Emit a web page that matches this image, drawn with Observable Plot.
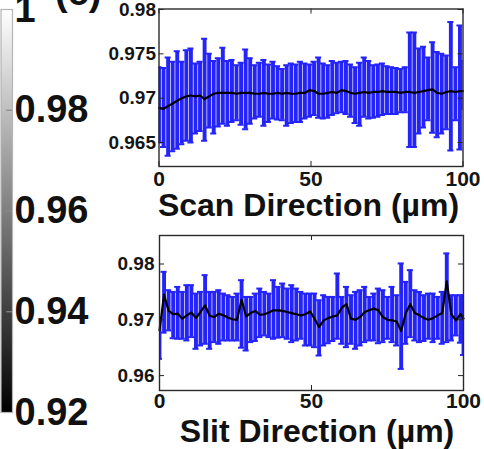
<!DOCTYPE html>
<html><head><meta charset="utf-8">
<script src="https://cdn.jsdelivr.net/npm/d3@7"></script>
<script src="https://cdn.jsdelivr.net/npm/@observablehq/plot@0.6"></script>
<style>
html,body{margin:0;padding:0;background:#fff;}
#root{position:relative;width:484px;height:449px;overflow:hidden;background:#fff;font-family:"Liberation Sans",Arial,sans-serif;}
.panel{position:absolute;}
#tag{position:absolute;left:55px;top:-27px;font-size:38px;font-weight:bold;line-height:1;white-space:nowrap;color:#111;}
</style></head><body><div id="root"></div>
<script>
// ---- data ----
const xPos = [0,1.5,3,4.5,6,7.5,9,10.5,12,13.5,15,16.5,18,19.5,21,22.5,24,25.5,27,28.5,30,31.5,33,34.5,36,37.5,39,40.5,42,43.5,45,46.5,48,49.5,51,52.5,54,55.5,57,58.5,60,61.5,63,64.5,66,67.5,69,70.5,72,73.5,75,76.5,78,79.5,81,82.5,84,85.5,87,88.5,90,91.5,93,94.5,96,97.5,99,100];

const scanHigh = [0.9735,0.9734,0.9746,0.9741,0.9753,0.9741,0.9754,0.9756,0.9739,0.9741,
0.9767,0.9750,0.9742,0.9745,0.9757,0.9742,0.9743,0.9737,0.9740,0.9755,
0.9745,0.9737,0.9740,0.9743,0.9738,0.9741,0.9736,0.9733,0.9737,0.9739,
0.9738,0.9741,0.9739,0.9738,0.9741,0.9746,0.9739,0.9737,0.9742,0.9740,
0.9741,0.9742,0.9738,0.9735,0.9740,0.9746,0.9742,0.9737,0.9738,0.9739,
0.9736,0.9735,0.9734,0.9733,0.9735,0.9774,0.9774,0.9756,0.9758,0.9746,
0.9763,0.9752,0.9750,0.9748,0.9786,0.9735,0.9782,0.9742];
const scanLow = [0.9650,0.9645,0.9635,0.9640,0.9643,0.9648,0.9652,0.9650,0.9660,0.9663,
0.9652,0.9667,0.9660,0.9668,0.9671,0.9669,0.9673,0.9675,0.9670,0.9665,
0.9671,0.9677,0.9679,0.9669,0.9673,0.9677,0.9676,0.9675,0.9669,0.9672,
0.9673,0.9673,0.9677,0.9679,0.9681,0.9678,0.9677,0.9678,0.9681,0.9683,
0.9684,0.9682,0.9679,0.9672,0.9669,0.9679,0.9677,0.9678,0.9679,0.9681,
0.9682,0.9682,0.9682,0.9684,0.9684,0.9645,0.9645,0.9660,0.9667,0.9675,
0.9661,0.9656,0.9660,0.9665,0.9641,0.9675,0.9642,0.9688];
const scanMean = [0.9689,0.9688,0.9691,0.9694,0.9697,0.9700,0.9702,0.9703,0.9702,0.9703,
0.9699,0.9702,0.9705,0.9706,0.9706,0.9706,0.9706,0.9705,0.9706,0.9706,
0.9706,0.9705,0.9705,0.9706,0.9705,0.9705,0.9706,0.9705,0.9706,0.9705,
0.9705,0.9706,0.9706,0.9709,0.9708,0.9705,0.9705,0.9706,0.9707,0.9706,
0.9709,0.9708,0.9706,0.9705,0.9706,0.9707,0.9706,0.9707,0.9707,0.9708,
0.9707,0.9707,0.9707,0.9706,0.9707,0.9707,0.9706,0.9707,0.9708,0.9709,
0.9710,0.9706,0.9705,0.9707,0.9708,0.9707,0.9708,0.9708];

const slitHigh = [0.9702,0.9786,0.9753,0.9750,0.9759,0.9750,0.9762,0.9762,0.9747,0.9750,
0.9780,0.9750,0.9750,0.9753,0.9747,0.9744,0.9741,0.9747,0.9771,0.9741,
0.9741,0.9747,0.9756,0.9750,0.9747,0.9771,0.9759,0.9765,0.9756,0.9762,
0.9756,0.9750,0.9747,0.9747,0.9747,0.9735,0.9744,0.9741,0.9741,0.9783,
0.9741,0.9759,0.9744,0.9750,0.9753,0.9759,0.9741,0.9747,0.9756,0.9753,
0.9741,0.9759,0.9744,0.9801,0.9768,0.9789,0.9753,0.9750,0.9744,0.9747,
0.9747,0.9741,0.9750,0.9819,0.9744,0.9744,0.9744,0.9744];
const slitLow = [0.9630,0.9677,0.9681,0.9667,0.9666,0.9666,0.9663,0.9669,0.9648,0.9654,
0.9657,0.9648,0.9660,0.9657,0.9663,0.9663,0.9663,0.9663,0.9650,0.9645,
0.9660,0.9662,0.9669,0.9672,0.9669,0.9666,0.9668,0.9669,0.9666,0.9660,
0.9663,0.9666,0.9654,0.9654,0.9651,0.9636,0.9654,0.9658,0.9662,0.9666,
0.9657,0.9651,0.9657,0.9648,0.9654,0.9660,0.9663,0.9663,0.9658,0.9660,
0.9666,0.9660,0.9654,0.9612,0.9657,0.9669,0.9663,0.9660,0.9662,0.9666,
0.9660,0.9666,0.9657,0.9660,0.9663,0.9672,0.9659,0.9637];
const slitMean = [0.9681,0.9745,0.9716,0.9710,0.9711,0.9702,0.9708,0.9713,0.9703,0.9714,
0.9726,0.9707,0.9705,0.9711,0.9708,0.9704,0.9701,0.9700,0.9736,0.9706,
0.9712,0.9716,0.9709,0.9710,0.9713,0.9717,0.9717,0.9716,0.9714,0.9712,
0.9710,0.9708,0.9710,0.9715,0.9702,0.9687,0.9699,0.9703,0.9706,0.9708,
0.9722,0.9728,0.9702,0.9700,0.9705,0.9714,0.9717,0.9720,0.9717,0.9705,
0.9700,0.9699,0.9697,0.9680,0.9712,0.9728,0.9712,0.9708,0.9703,0.9700,
0.9703,0.9708,0.9712,0.9769,0.9710,0.9699,0.9710,0.9702];

const xTicks = [0, 50, 100];
const xTickLabels = ["0", "50", "100"];
const scanYTicks = [0.965, 0.97, 0.975, 0.98];
const scanYLabels = ["0.965", "0.97", "0.975", "0.98"];
const slitYTicks = [0.96, 0.97, 0.98];
const slitYLabels = ["0.96", "0.97", "0.98"];
const cbarTicks = [0.92, 0.94, 0.96, 0.98, 1];
const cbarLabels = ["0.92", "0.94", "0.96", "0.98", "1"];
const scanLabel = "Scan Direction (µm)";
const slitLabel = "Slit Direction (µm)";
const tagText = "(c)";

// ---- build ----
const root = document.getElementById("root");
const font = '"Liberation Sans", Arial, sans-serif';
const blue = "#2424fa";

function place(el, left, top) {
  el.classList.add("panel");
  el.style.left = left + "px";
  el.style.top = top + "px";
  root.appendChild(el);
}

const rows = (hi, lo, mean) => xPos.map((x, i) => ({x, hi: hi[i], lo: lo[i], mean: mean[i]}));
const fmt = (ticks, labels) => d => labels[ticks.indexOf(d)];

function panel({data, W, H, mL, mR, mT, mB, yDomain, yTicks, yLabels, label, yPad, xPad, labelDy, labelDx}) {
  const fw = W - mL - mR, fh = H - mT - mB;
  return Plot.plot({
    width: W, height: H, marginLeft: mL, marginRight: mR, marginTop: mT, marginBottom: mB,
    style: {fontFamily: font, background: "transparent", overflow: "visible"},
    x: {domain: [0, 100], label: null},
    y: {domain: yDomain, label: null},
    marks: [
      Plot.ruleX(data, {x: "x", y1: "lo", y2: "hi", stroke: blue, strokeWidth: 3.9, clip: true}),
      Plot.ruleY(data, {y: "hi", x1: d => d.x - 1.0, x2: d => d.x + 1.0, stroke: blue, strokeWidth: 2, clip: true}),
      Plot.ruleY(data, {y: "lo", x1: d => d.x - 1.0, x2: d => d.x + 1.0, stroke: blue, strokeWidth: 2, clip: true}),
      Plot.line(data, {x: "x", y: "mean", stroke: "#000", strokeWidth: 2.2}),
      Plot.tickY(yTicks, {insetRight: fw - 5, stroke: "#222"}),
      Plot.tickY(yTicks, {insetLeft: fw - 5, stroke: "#222"}),
      Plot.tickX(xTicks, {insetTop: fh - 5, stroke: "#222"}),
      Plot.tickX(xTicks, {insetBottom: fh - 5, stroke: "#222"}),
      Plot.frame({stroke: "#2a2a2a", strokeWidth: 1.4}),
      Plot.axisY(yTicks, {tickSize: 0, tickPadding: yPad, fontSize: 19, fontWeight: "bold", fill: "#151515", label: null,
        tickFormat: fmt(yTicks, yLabels)}),
      Plot.axisX(xTicks, {tickSize: 0, tickPadding: xPad, fontSize: 21, fontWeight: "bold", fill: "#151515", label: null,
        tickFormat: fmt(xTicks, xTickLabels)}),
      Plot.text([label], {frameAnchor: "bottom", dy: labelDy, dx: labelDx, fontSize: 32, fontWeight: "bold", fill: "#111", lineAnchor: "middle"})
    ]
  });
}

// colorbar
const cbar = Plot.plot({
  width: 100, height: 449, marginLeft: 0.5, marginRight: 88, marginTop: 9, marginBottom: 37,
  style: {fontFamily: font, background: "transparent", overflow: "visible"},
  x: {domain: [0, 1], axis: null},
  y: {domain: [0.92, 1], axis: null},
  color: {type: "linear", domain: [0.92, 1], range: ["#000000", "#ffffff"]},
  marks: [
    Plot.raster({fill: (x, y) => y, x1: 0, x2: 1, y1: 0.92, y2: 1}),
    Plot.ruleY(cbarTicks.slice(1, 4), {x1: 0.5, x2: 1, stroke: "#8a8a8a", strokeWidth: 1.2}),
    Plot.frame({stroke: "#b5b5b5", strokeWidth: 1.2}),
    Plot.axisY(cbarTicks, {anchor: "right", tickSize: 0, tickPadding: 2, fontSize: 38, fontWeight: "bold", fill: "#111",
      tickFormat: fmt(cbarTicks, cbarLabels), label: null})
  ]
});
place(cbar, 0, 0);

const scanPlot = panel({data: rows(scanHigh, scanLow, scanMean), W: 384, H: 230, mL: 58.5, mR: 21.5, mT: 8.5, mB: 64,
  yDomain: [0.96229, 0.98006], yTicks: scanYTicks, yLabels: scanYLabels, label: scanLabel, yPad: 3, xPad: 5, labelDy: 39, labelDx: -2.5});
place(scanPlot, 100, 0);

const slitPlot = panel({data: rows(slitHigh, slitLow, slitMean), W: 384, H: 219, mL: 59, mR: 21, mT: 5, mB: 59,
  yDomain: [0.95733, 0.98511], yTicks: slitYTicks, yLabels: slitYLabels, label: slitLabel, yPad: 5, xPad: 3, labelDy: 41, labelDx: 5.5});
place(slitPlot, 100, 230);

const tag = document.createElement("div");
tag.id = "tag";
tag.textContent = tagText;
root.appendChild(tag);
</script>
</body></html>
